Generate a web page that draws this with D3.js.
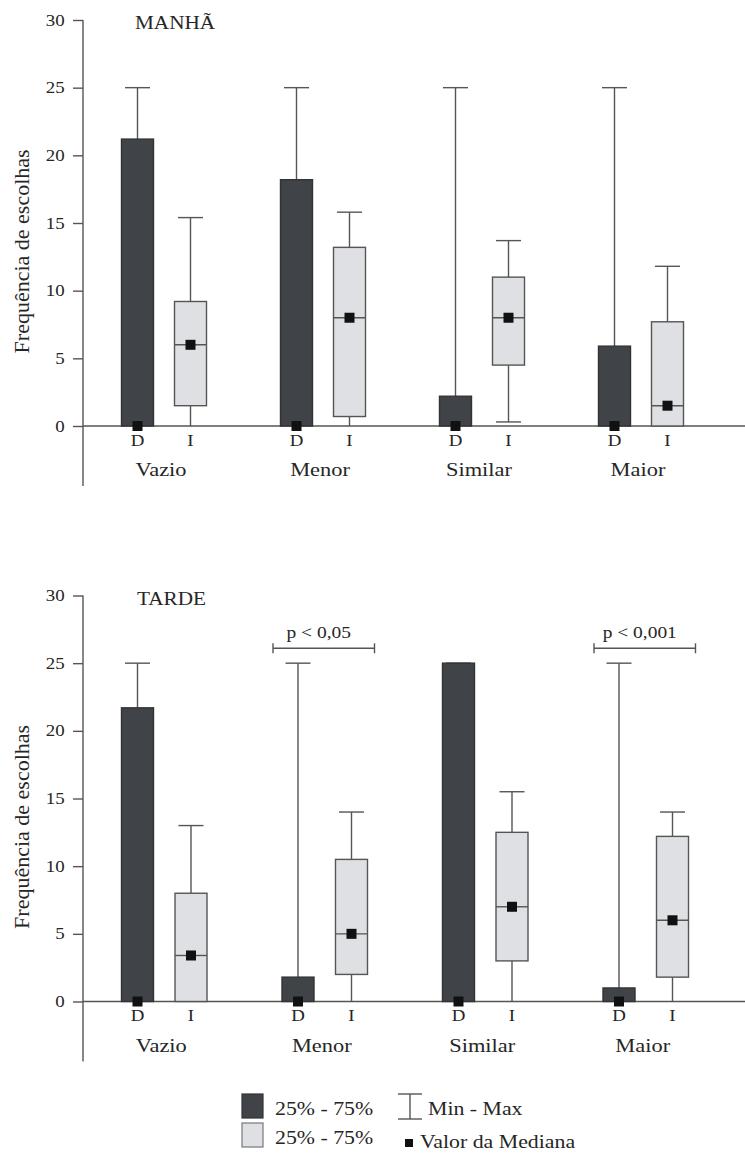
<!DOCTYPE html>
<html>
<head>
<meta charset="utf-8">
<script src="https://cdn.jsdelivr.net/npm/d3@7"></script>
<style>
  body { margin: 0; background: #fff; }
  text { font-family: "Liberation Serif", "Times New Roman", serif; fill: #262626; }
</style>
</head>
<body>
<div id="chart"></div>
<script>
var categories = ['Vazio', 'Menor', 'Similar', 'Maior']
var groups = ['D', 'I']
var yTicks = [0, 5, 10, 15, 20, 25, 30]

// order: Vazio D, Vazio I, Menor D, Menor I, Similar D, Similar I, Maior D, Maior I
var manhaMin = [0, 0, 0, 0, 0, 0.3, 0, 0]
var manhaQ1  = [0, 1.5, 0, 0.7, 0, 4.5, 0, 0]
var manhaMed = [0, 6, 0, 8, 0, 8, 0, 1.5]
var manhaQ3  = [21.2, 9.2, 18.2, 13.2, 2.2, 11.0, 5.9, 7.7]
var manhaMax = [25, 15.4, 25, 15.8, 25, 13.7, 25, 11.8]

var tardeMin = [0, 0, 0, 0, 0, 0, 0, 0]
var tardeQ1  = [0, 0, 0, 2, 0, 3, 0, 1.8]
var tardeMed = [0, 3.4, 0, 5, 0, 7, 0, 6]
var tardeQ3  = [21.7, 8, 1.8, 10.5, 25, 12.5, 1, 12.2]
var tardeMax = [25, 13, 25, 14, 25, 15.5, 25, 14]

var tardeSig = [{cat: 'Menor', label: 'p < 0,05', y: 26.1}, {cat: 'Maior', label: 'p < 0,001', y: 26.1}]

var legendRows = ['25% - 75%', '25% - 75%']
var yLabel = 'Frequência de escolhas'

var W = 745, H = 1158
var SX = 1.18   // text in the source is a little wider than tall
var dark = '#404448', light = '#dfe0e3', ink = '#555'

var svg = d3.select('#chart').append('svg').attr('width', W).attr('height', H)

function txt(g, x, y, s, size, anchor){
  return g.append('text')
    .attr('transform', 'translate(' + x + ',' + y + ') scale(' + SX + ',1)')
    .attr('font-size', size)
    .attr('text-anchor', anchor || 'middle')
    .text(s)
}

function makeRows(mn, q1, med, q3, mx){
  var rows = []
  categories.forEach(function(c, i){
    groups.forEach(function(g, j){
      var k = i * 2 + j
      rows.push({cat: c, grp: g, min: mn[k], q1: q1[k], med: med[k], q3: q3[k], max: mx[k]})
    })
  })
  return rows
}

function panel(opt){
  var g = svg.append('g')
  var y = d3.scaleLinear().domain([0, 30]).range([opt.y0, opt.y30])
  var x = d3.scaleBand().domain(categories).range(opt.xr)
  var xi = d3.scalePoint().domain(groups).range([0, x.bandwidth()]).padding(1)
  var bw = 32, cap = 25
  var cx = function(d){ return x(d.cat) + xi(d.grp) }

  // y axis
  var ax = g.append('g').attr('transform', 'translate(' + opt.axisX + ',0)')
    .call(d3.axisLeft(y).tickValues(yTicks).tickSize(10).tickPadding(6))
  ax.select('.domain').remove()
  ax.selectAll('.tick line').attr('stroke', ink).attr('stroke-width', 1.4)
  ax.selectAll('.tick text').attr('font-size', 16)
    .attr('transform', 'scale(' + SX + ',1)')
    .each(function(){ var t = d3.select(this); t.attr('x', +t.attr('x') / SX - 2) })
    .style('font-family', '"Liberation Serif", serif').attr('fill', '#262626')

  g.append('line').attr('x1', opt.axisX).attr('x2', opt.axisX)
    .attr('y1', y(30)).attr('y2', y(0) + 60)
    .attr('stroke', ink).attr('stroke-width', 1.4)
  g.append('line').attr('x1', opt.axisX).attr('x2', W)
    .attr('y1', y(0)).attr('y2', y(0))
    .attr('stroke', ink).attr('stroke-width', 1.4)

  g.append('text')
    .attr('transform', 'translate(29,' + y(12.9) + ') rotate(-90)')
    .attr('font-size', 22).attr('text-anchor', 'middle')
    .text(yLabel)

  var rows = opt.rows
  var box = g.selectAll('g.box').data(rows).enter().append('g').attr('class', 'box')

  // whiskers
  box.append('line').attr('x1', cx).attr('x2', cx)
    .attr('y1', function(d){ return y(d.q3) }).attr('y2', function(d){ return y(d.max) })
    .attr('stroke', ink).attr('stroke-width', 1.4)
  box.append('line').attr('x1', cx).attr('x2', cx)
    .attr('y1', function(d){ return y(d.q1) }).attr('y2', function(d){ return y(d.min) })
    .attr('stroke', ink).attr('stroke-width', 1.4)
  box.append('line')
    .attr('x1', function(d){ return cx(d) - cap / 2 }).attr('x2', function(d){ return cx(d) + cap / 2 })
    .attr('y1', function(d){ return y(d.max) }).attr('y2', function(d){ return y(d.max) })
    .attr('stroke', ink).attr('stroke-width', 1.4)
  box.filter(function(d){ return d.min > 0 }).append('line')
    .attr('x1', function(d){ return cx(d) - cap / 2 }).attr('x2', function(d){ return cx(d) + cap / 2 })
    .attr('y1', function(d){ return y(d.min) }).attr('y2', function(d){ return y(d.min) })
    .attr('stroke', ink).attr('stroke-width', 1.4)

  // boxes
  box.append('rect')
    .attr('x', function(d){ return cx(d) - bw / 2 }).attr('width', bw)
    .attr('y', function(d){ return y(d.q3) })
    .attr('height', function(d){ return y(d.q1) - y(d.q3) })
    .attr('fill', function(d){ return d.grp == 'D' ? dark : light })
    .attr('stroke', function(d){ return d.grp == 'D' ? '#333' : '#555' })
    .attr('stroke-width', 1.4)

  // median line + marker
  box.filter(function(d){ return d.grp == 'I' }).append('line')
    .attr('x1', function(d){ return cx(d) - bw / 2 }).attr('x2', function(d){ return cx(d) + bw / 2 })
    .attr('y1', function(d){ return y(d.med) }).attr('y2', function(d){ return y(d.med) })
    .attr('stroke', ink).attr('stroke-width', 1.4)
  box.append('rect')
    .attr('x', function(d){ return cx(d) - 5 }).attr('y', function(d){ return y(d.med) - 5 })
    .attr('width', 10).attr('height', 10).attr('fill', '#111')

  // labels
  rows.forEach(function(d){ txt(g, cx(d), y(0) + 19.5, d.grp, 16) })
  categories.forEach(function(c){ txt(g, x(c) + x.bandwidth() / 2 - 3, y(0) + 50, c, 19) })
  txt(g, opt.titleX, y(30) + 9, opt.title, 18, 'start')

  ;(opt.sig || []).forEach(function(s){
    var x1 = x(s.cat) + xi('D') - bw / 2 - 9, x2 = x(s.cat) + xi('I') + bw / 2 + 7
    var yy = y(s.y)
    g.append('line').attr('x1', x1).attr('x2', x2).attr('y1', yy).attr('y2', yy)
      .attr('stroke', ink).attr('stroke-width', 1.4)
    ;[x1, x2].forEach(function(xx){
      g.append('line').attr('x1', xx).attr('x2', xx).attr('y1', yy - 5).attr('y2', yy + 5)
        .attr('stroke', ink).attr('stroke-width', 1.4)
    })
    txt(g, (x1 + x2) / 2 - 5, yy - 10, s.label, 16.5)
  })
}

panel({
  rows: makeRows(manhaMin, manhaQ1, manhaMed, manhaQ3, manhaMax),
  y0: 426, y30: 20, xr: [84.5, 720.5], axisX: 83, title: 'MANHÃ', titleX: 135
})
panel({
  rows: makeRows(tardeMin, tardeQ1, tardeMed, tardeQ3, tardeMax),
  y0: 1001.5, y30: 595.5, xr: [84, 726], axisX: 83, title: 'TARDE', titleX: 137,
  sig: tardeSig
})

// legend
var lg = svg.append('g')
var ly = d3.scaleBand().domain(legendRows.map(function(d, i){ return i })).range([1093, 1151])
legendRows.forEach(function(s, i){
  lg.append('rect').attr('x', 242).attr('y', ly(i) + 1).attr('width', 21).attr('height', 24)
    .attr('fill', i == 0 ? dark : light).attr('stroke', i == 0 ? '#333' : '#777').attr('stroke-width', 1.2)
  txt(lg, 275, ly(i) + 22, s, 18.5, 'start')
})
lg.append('line').attr('x1', 398).attr('x2', 422).attr('y1', 1094).attr('y2', 1094).attr('stroke', ink).attr('stroke-width', 1.4)
lg.append('line').attr('x1', 398).attr('x2', 422).attr('y1', 1119).attr('y2', 1119).attr('stroke', ink).attr('stroke-width', 1.4)
lg.append('line').attr('x1', 410).attr('x2', 410).attr('y1', 1094).attr('y2', 1119).attr('stroke', ink).attr('stroke-width', 1.4)
txt(lg, 428, 1115, 'Min - Max', 18.5, 'start')
lg.append('rect').attr('x', 405).attr('y', 1139).attr('width', 8).attr('height', 8).attr('fill', '#111')
txt(lg, 420, 1148, 'Valor da Mediana', 18.5, 'start')
</script>
</body>
</html>
